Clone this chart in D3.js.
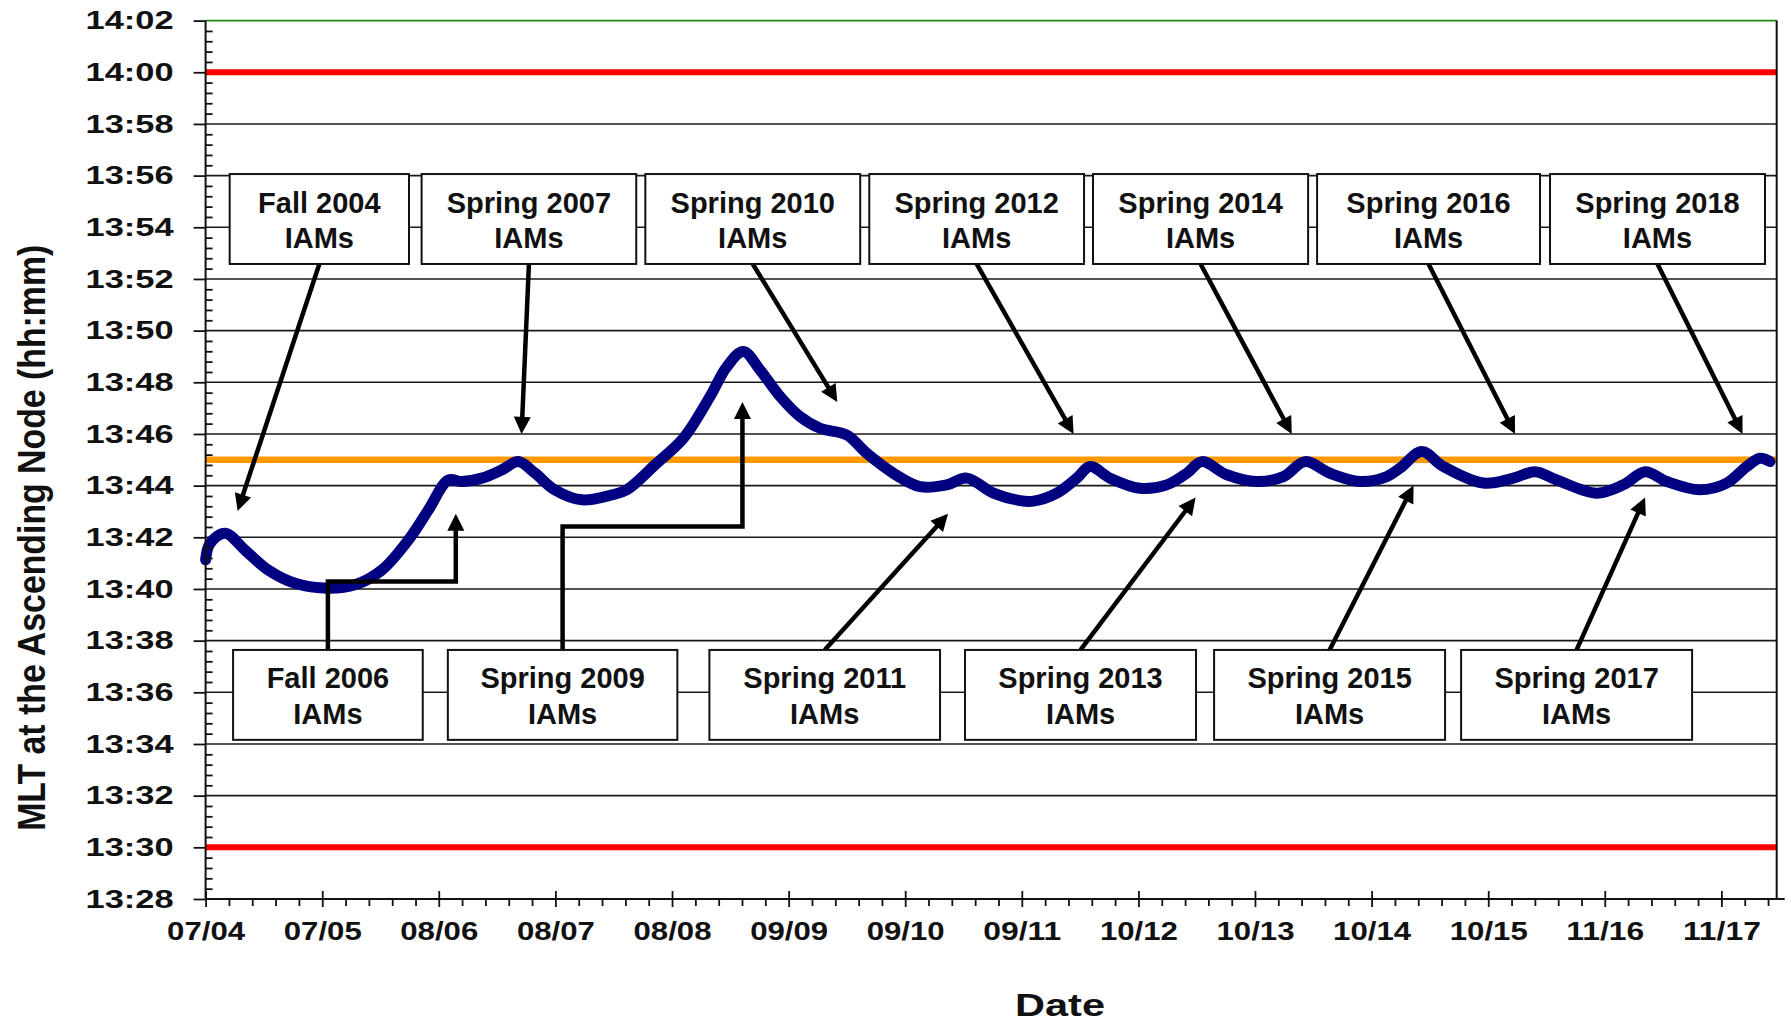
<!DOCTYPE html>
<html>
<head>
<meta charset="utf-8">
<script src="https://cdn.jsdelivr.net/npm/d3@7"></script>
<style>
  body { margin: 0; background: #fff; }
  svg text { font-family: "Liberation Sans", Arial, sans-serif; font-weight: bold; fill: #111; }
</style>
</head>
<body>
<div id="chart"></div>
<script>
// MLT of the ascending node, x = decimal year, y = minutes after 13:00
var years = [
    2004.537, 2004.577, 2004.709, 2004.885, 2005.090, 2005.325, 2005.618, 2005.853,
    2006.088, 2006.323, 2006.499, 2006.675, 2006.793, 2006.969, 2007.145, 2007.291,
    2007.438, 2007.614, 2007.849, 2008.114, 2008.246, 2008.510, 2008.744, 2008.979,
    2009.126, 2009.272, 2009.419, 2009.596, 2009.772, 2009.948, 2010.183, 2010.359,
    2010.593, 2010.828, 2011.063, 2011.239, 2011.474, 2011.709, 2011.826, 2012.032,
    2012.208, 2012.325, 2012.501, 2012.765, 2013.000, 2013.177, 2013.309, 2013.529,
    2013.793, 2014.027, 2014.218, 2014.438, 2014.702, 2014.938, 2015.055, 2015.246,
    2015.436, 2015.788, 2016.052, 2016.243, 2016.434, 2016.787, 2017.021, 2017.212,
    2017.403, 2017.696, 2017.931, 2018.107, 2018.224, 2018.312
];
var mlt = [
    41.13, 41.77, 42.16, 41.50, 40.73, 40.22, 40.03, 40.16,
    40.73, 41.90, 43.06, 44.22, 44.16, 44.29, 44.61, 44.93,
    44.48, 43.83, 43.45, 43.64, 43.84, 44.87, 45.83, 47.45,
    48.60, 49.19, 48.48, 47.45, 46.67, 46.22, 45.96, 45.25,
    44.48, 43.96, 44.03, 44.29, 43.71, 43.42, 43.40, 43.71,
    44.29, 44.74, 44.29, 43.90, 44.03, 44.48, 44.93, 44.42,
    44.16, 44.35, 44.93, 44.48, 44.16, 44.35, 44.68, 45.32,
    44.74, 44.10, 44.29, 44.54, 44.22, 43.71, 44.03, 44.54,
    44.16, 43.84, 44.10, 44.74, 45.06, 44.93
];

var xStart = 2004.537;
var xEnd = 2018.371;
var xTickValues = [2004.537, 2005.564, 2006.590, 2007.617, 2008.644, 2009.671, 2010.697,
    2011.724, 2012.751, 2013.777, 2014.804, 2015.831, 2016.857, 2017.884];
var xTickLabels = ["07/04", "07/05", "08/06", "08/07", "08/08", "09/09", "09/10",
    "09/11", "10/12", "10/13", "10/14", "10/15", "11/16", "11/17"];
var yTickLabels = ["13:28", "13:30", "13:32", "13:34", "13:36", "13:38", "13:40", "13:42",
    "13:44", "13:46", "13:48", "13:50", "13:52", "13:54", "13:56", "13:58", "14:00", "14:02"];

var limitLines = [30, 60];   // red
var targetLine = 45;         // orange
var topLine = 62;            // green

// annotation boxes (x range in years) and the point each arrow reaches
var upperLabels = ["Fall 2004", "Spring 2007", "Spring 2010", "Spring 2012",
    "Spring 2014", "Spring 2016", "Spring 2018"];
var upperBoxes = [[2004.749, 2006.328], [2006.439, 2008.329], [2008.409, 2010.301],
    [2010.381, 2012.272], [2012.351, 2014.245], [2014.324, 2016.287], [2016.375, 2018.268]];
var upperTips = [[2004.819, 43.02], [2007.319, 46.0], [2010.099, 47.24], [2012.180, 46.0],
    [2014.101, 46.0], [2016.067, 46.0], [2018.070, 46.0]];
var upperRow = [56.06, 52.58];

var lowerLabels = ["Fall 2006", "Spring 2009", "Spring 2011", "Spring 2013",
    "Spring 2015", "Spring 2017"];
var lowerBoxes = [[2004.779, 2006.449], [2006.670, 2008.691], [2008.973, 2011.004],
    [2011.224, 2013.258], [2013.417, 2015.451], [2015.592, 2017.626]];
var lowerTips = [[2006.740, 42.91], [2009.264, 47.24], [2011.075, 42.91],
    [2013.254, 43.54], [2015.173, 44.01], [2017.212, 43.54]];
var lowerElbows = [40.29, 42.42, null, null, null, null];
var lowerRow = [37.64, 34.16];

// ---------------------------------------------------------------

var width = 1791, height = 1024;

var svg = d3.select("#chart").append("svg")
    .attr("width", width)
    .attr("height", height);

var x = d3.scaleLinear().domain([xStart, xEnd]).range([205.6, 1776.7]);
var y = d3.scaleLinear().domain([28, 62]).range([899, 20.6]);

var yTicks = yTickLabels.map(function(s) {
    var p = s.split(":");
    return (+p[0] - 13) * 60 + (+p[1]);
});

// grid
svg.append("g")
    .selectAll("line")
    .data(yTicks.filter(function(v) { return v > 28 && v < 62; }))
    .join("line")
    .attr("x1", x(xStart)).attr("x2", x(xEnd))
    .attr("y1", function(d) { return y(d); })
    .attr("y2", function(d) { return y(d); })
    .attr("stroke", "#1a1a1a")
    .attr("stroke-width", 1.6);

// reference lines
svg.append("g")
    .selectAll("line")
    .data(limitLines)
    .join("line")
    .attr("x1", x(xStart)).attr("x2", x(xEnd))
    .attr("y1", function(d) { return y(d); })
    .attr("y2", function(d) { return y(d); })
    .attr("stroke", "#ff0000")
    .attr("stroke-width", 6);

svg.append("line")
    .attr("x1", x(xStart)).attr("x2", x(xEnd))
    .attr("y1", y(targetLine)).attr("y2", y(targetLine))
    .attr("stroke", "#ff9900")
    .attr("stroke-width", 6.5);

svg.append("line")
    .attr("x1", x(xStart)).attr("x2", x(xEnd))
    .attr("y1", y(topLine)).attr("y2", y(topLine))
    .attr("stroke", "#1f8a1f")
    .attr("stroke-width", 1.6);

// the MLT curve
var line = d3.line()
    .x(function(d, i) { return x(years[i]); })
    .y(function(d) { return y(d); })
    .curve(d3.curveCatmullRom.alpha(0.5));

svg.append("path")
    .datum(mlt)
    .attr("d", line)
    .attr("fill", "none")
    .attr("stroke", "#000080")
    .attr("stroke-width", 11)
    .attr("stroke-linecap", "round")
    .attr("stroke-linejoin", "round");

// arrows
var headLen = 17, headHalf = 8.5;

function drawArrow(pts) {
    var n = pts.length;
    var a = pts[n - 2], b = pts[n - 1];
    var dx = b[0] - a[0], dy = b[1] - a[1];
    var len = Math.sqrt(dx * dx + dy * dy);
    var ux = dx / len, uy = dy / len;
    var base = [b[0] - ux * headLen, b[1] - uy * headLen];
    var shaft = pts.slice(0, n - 1).concat([[b[0] - ux * (headLen - 2), b[1] - uy * (headLen - 2)]]);

    svg.append("path")
        .attr("d", d3.line()(shaft))
        .attr("fill", "none")
        .attr("stroke", "#000")
        .attr("stroke-width", 4.5)
        .attr("stroke-linejoin", "miter");

    svg.append("path")
        .attr("d", d3.line()([
            b,
            [base[0] - uy * headHalf, base[1] + ux * headHalf],
            [base[0] + uy * headHalf, base[1] - ux * headHalf]
        ]) + "Z")
        .attr("fill", "#000");
}

upperBoxes.forEach(function(b, i) {
    var cx = x((b[0] + b[1]) / 2);
    drawArrow([[cx, y(upperRow[1])], [x(upperTips[i][0]), y(upperTips[i][1])]]);
});

lowerBoxes.forEach(function(b, i) {
    var cx = x((b[0] + b[1]) / 2);
    var tip = [x(lowerTips[i][0]), y(lowerTips[i][1])];
    var pts = [[cx, y(lowerRow[0])]];
    if (lowerElbows[i] !== null) {
        pts.push([cx, y(lowerElbows[i])]);
        pts.push([tip[0], y(lowerElbows[i])]);
    }
    pts.push(tip);
    drawArrow(pts);
});

// boxes
function drawBoxes(boxes, labels, row) {
    var g = svg.append("g")
        .selectAll("g")
        .data(boxes)
        .join("g");

    g.append("rect")
        .attr("x", function(d) { return x(d[0]); })
        .attr("y", y(row[0]))
        .attr("width", function(d) { return x(d[1]) - x(d[0]); })
        .attr("height", y(row[1]) - y(row[0]))
        .attr("fill", "#fff")
        .attr("stroke", "#111")
        .attr("stroke-width", 2);

    g.append("text")
        .attr("x", function(d) { return x((d[0] + d[1]) / 2); })
        .attr("y", y(row[0]) + 38.5)
        .attr("text-anchor", "middle")
        .attr("font-size", 29)
        .text(function(d, i) { return labels[i]; });

    g.append("text")
        .attr("x", function(d) { return x((d[0] + d[1]) / 2); })
        .attr("y", y(row[0]) + 74)
        .attr("text-anchor", "middle")
        .attr("font-size", 29)
        .text("IAMs");
}

drawBoxes(upperBoxes, upperLabels, upperRow);
drawBoxes(lowerBoxes, lowerLabels, lowerRow);

// axes
var yMinor = d3.range(28, 62.01, 0.4).filter(function(v) {
    return Math.abs(v / 2 - Math.round(v / 2)) > 0.01;
});

var xMinor = [];
xTickValues.forEach(function(v, i) {
    var step = (xTickValues[1] - xTickValues[0]) / 5;
    for (var k = 1; k < 5; k++) {
        if (v + k * step < xEnd) xMinor.push(v + k * step);
    }
});

svg.append("g")
    .attr("transform", "translate(" + x(xStart) + ",0)")
    .call(d3.axisLeft(y).tickValues(yMinor).tickSize(-7).tickFormat(""))
    .call(function(g) { g.select(".domain").remove(); })
    .selectAll("line").attr("stroke", "#111").attr("stroke-width", 1.8);

var yAxis = svg.append("g")
    .attr("transform", "translate(" + x(xStart) + ",0)")
    .call(d3.axisLeft(y)
        .tickValues(yTicks)
        .tickFormat(function(d, i) { return yTickLabels[i]; })
        .tickSizeInner(12)
        .tickSizeOuter(0)
        .tickPadding(20));
yAxis.select(".domain").remove();
yAxis.selectAll("line").attr("stroke", "#111").attr("stroke-width", 1.8);
yAxis.selectAll("text")
    .attr("font-size", 26)
    .attr("font-family", null)
    .attr("fill", "#1a1a1a")
    .attr("textLength", 88)
    .attr("lengthAdjust", "spacingAndGlyphs");

svg.append("g")
    .attr("transform", "translate(0," + y(28) + ")")
    .call(d3.axisBottom(x).tickValues(xMinor).tickSize(7).tickFormat(""))
    .call(function(g) { g.select(".domain").remove(); })
    .selectAll("line").attr("stroke", "#111").attr("stroke-width", 1.8);

var xAxis = svg.append("g")
    .attr("transform", "translate(0," + y(28) + ")")
    .call(d3.axisBottom(x)
        .tickValues(xTickValues)
        .tickFormat(function(d, i) { return xTickLabels[i]; })
        .tickSizeInner(8)
        .tickSizeOuter(0));
xAxis.select(".domain").remove();
xAxis.selectAll("line")
    .attr("y1", -8)
    .attr("stroke", "#111")
    .attr("stroke-width", 1.8);
xAxis.selectAll("text")
    .attr("y", 41)
    .attr("dy", null)
    .attr("font-size", 25)
    .attr("font-family", null)
    .attr("fill", "#1a1a1a")
    .attr("textLength", 78)
    .attr("lengthAdjust", "spacingAndGlyphs");

// axis lines and right frame
svg.append("line")
    .attr("x1", x(xStart)).attr("x2", x(xStart))
    .attr("y1", y(62)).attr("y2", y(28))
    .attr("stroke", "#111").attr("stroke-width", 2);

svg.append("line")
    .attr("x1", x(xStart)).attr("x2", x(xEnd) + 8)
    .attr("y1", y(28)).attr("y2", y(28))
    .attr("stroke", "#111").attr("stroke-width", 2);

svg.append("line")
    .attr("x1", x(xEnd)).attr("x2", x(xEnd))
    .attr("y1", y(62)).attr("y2", y(28))
    .attr("stroke", "#111").attr("stroke-width", 2);

// titles
svg.append("text")
    .attr("transform", "translate(45," + ((y(62) + y(28)) / 2 + 78) + ") rotate(-90)")
    .attr("text-anchor", "middle")
    .attr("font-size", 38)
    .attr("textLength", 586)
    .attr("lengthAdjust", "spacingAndGlyphs")
    .text("MLT at the Ascending Node (hh:mm)");

svg.append("text")
    .attr("x", 1060)
    .attr("y", 1016)
    .attr("text-anchor", "middle")
    .attr("font-size", 31)
    .attr("textLength", 90)
    .attr("lengthAdjust", "spacingAndGlyphs")
    .text("Date");
</script>
</body>
</html>
